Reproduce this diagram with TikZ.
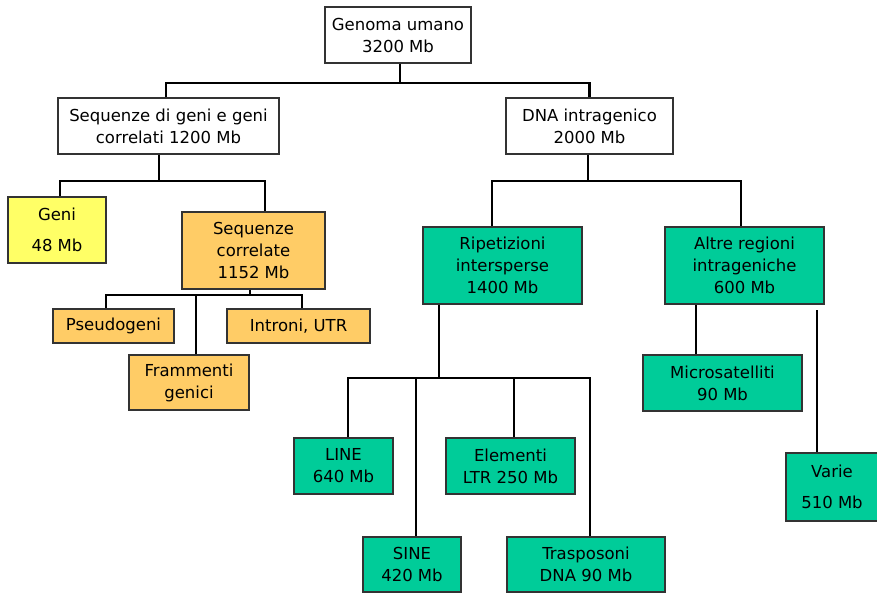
\documentclass[tikz,border=0pt]{standalone}
\usepackage{fontspec}
\setmainfont{DejaVu Sans}
\definecolor{genyellow}{HTML}{FFFF66}
\definecolor{genorange}{HTML}{FFCC66}
\definecolor{gengreen}{HTML}{00CC99}
\begin{document}
\begin{tikzpicture}[%
  x=1pt, y=-1pt,
  box/.style={draw=black!80, line width=1.3pt, inner sep=0pt, align=center,
    font=\fontsize{16.5}{22}\selectfont},
  whitebox/.style={box, fill=white},
  yellowbox/.style={box, fill=genyellow},
  orangebox/.style={box, fill=genorange},
  greenbox/.style={box, fill=gengreen},
  link/.style={line width=2.8pt}]
\useasboundingbox (0,0) rectangle (877,593);

\node[whitebox, minimum width=146pt, minimum height=56pt] (genoma) at (398,35)
	{Genoma umano\\3200 Mb};
\node[whitebox, minimum width=221pt, minimum height=56pt] (seqgeni) at (168.5,126)
	{Sequenze di geni e geni\\correlati 1200 Mb};
\node[whitebox, minimum width=167pt, minimum height=56pt] (dnaint) at (589.5,126)
	{DNA intragenico\\2000 Mb};
\node[yellowbox, minimum width=98pt, minimum height=66pt] (geni) at (57,230)
	{Geni\\[9pt]48 Mb};
\node[orangebox, minimum width=143pt, minimum height=77pt] (seqcorr) at (253.5,250.5)
	{Sequenze\\correlate\\1152 Mb};
\node[orangebox, minimum width=121pt, minimum height=34pt] (pseudo) at (113.5,326)
	{Pseudogeni};
\node[orangebox, minimum width=143pt, minimum height=34pt] (introni) at (298.5,326)
	{Introni, UTR};
\node[orangebox, minimum width=120pt, minimum height=55pt] (framm) at (189,382.5)
	{Frammenti\\genici};
\node[greenbox, minimum width=159pt, minimum height=77pt] (ripet) at (502.5,265.5)
	{Ripetizioni\\intersperse\\1400 Mb};
\node[greenbox, minimum width=159pt, minimum height=77pt] (altre) at (744.5,265.5)
	{Altre regioni\\intrageniche\\600 Mb};
\node[greenbox, minimum width=99pt, minimum height=56pt] (line) at (343.5,466)
	{LINE\\640 Mb};
\node[greenbox, minimum width=129pt, minimum height=56pt] (elem) at (510.5,466)
	{Elementi\\LTR 250 Mb};
\node[greenbox, minimum width=98pt, minimum height=55pt] (sine) at (412,564.5)
	{SINE\\420 Mb};
\node[greenbox, minimum width=158pt, minimum height=55pt] (trasp) at (586,564.5)
	{Trasposoni\\DNA 90 Mb};
\node[greenbox, minimum width=159pt, minimum height=56pt] (micro) at (722.5,383)
	{Microsatelliti\\90 Mb};
\node[greenbox, minimum width=92pt, minimum height=68pt] (varie) at (832,487)
	{Varie\\[9pt]510 Mb};

\coordinate (bgenoma) at (400,83);
\coordinate (bseqgeni) at (159,181);
\coordinate (bseqcorr) at (250,295);
\coordinate (bdnaint) at (588,181);
\coordinate (bripet) at (439,378);
\coordinate (valtre) at (817,310);

\draw[link] (genoma.south -| bgenoma) -- (bgenoma);
\draw[link] ([xshift=-2.5pt]seqgeni.north) |- (bgenoma) -| (dnaint.north);

\draw[link] (seqgeni.south -| bseqgeni) -- (bseqgeni);
\draw[link] ([xshift=3pt]geni.north) |- (bseqgeni) -| ([xshift=11.5pt]seqcorr.north);

\draw[link] (seqcorr.south -| bseqcorr) -- (bseqcorr);
\draw[link] ([xshift=-7.5pt]pseudo.north) |- (bseqcorr) -| ([xshift=3.5pt]introni.north);
\draw[link] ([xshift=7pt]framm.north) -- ([xshift=7pt]framm.north |- bseqcorr);

\draw[link] (dnaint.south -| bdnaint) -- (bdnaint);
\draw[link] ([xshift=-10.5pt]ripet.north) |- (bdnaint) -| ([xshift=-3.5pt]altre.north);

\draw[link] (ripet.south -| bripet) -- (bripet);
\draw[link] ([xshift=4.5pt]line.north) |- (bripet) -| ([xshift=4pt]trasp.north);
\draw[link] ([xshift=4pt]sine.north) -- ([xshift=4pt]sine.north |- bripet);
\draw[link] ([xshift=3.5pt]elem.north) -- ([xshift=3.5pt]elem.north |- bripet);

\draw[link] ([xshift=-26.5pt]micro.north) -- ([xshift=-26.5pt]micro.north |- altre.south);
\draw[link] (varie.north -| valtre) -- (valtre);
\end{tikzpicture}
\end{document}
